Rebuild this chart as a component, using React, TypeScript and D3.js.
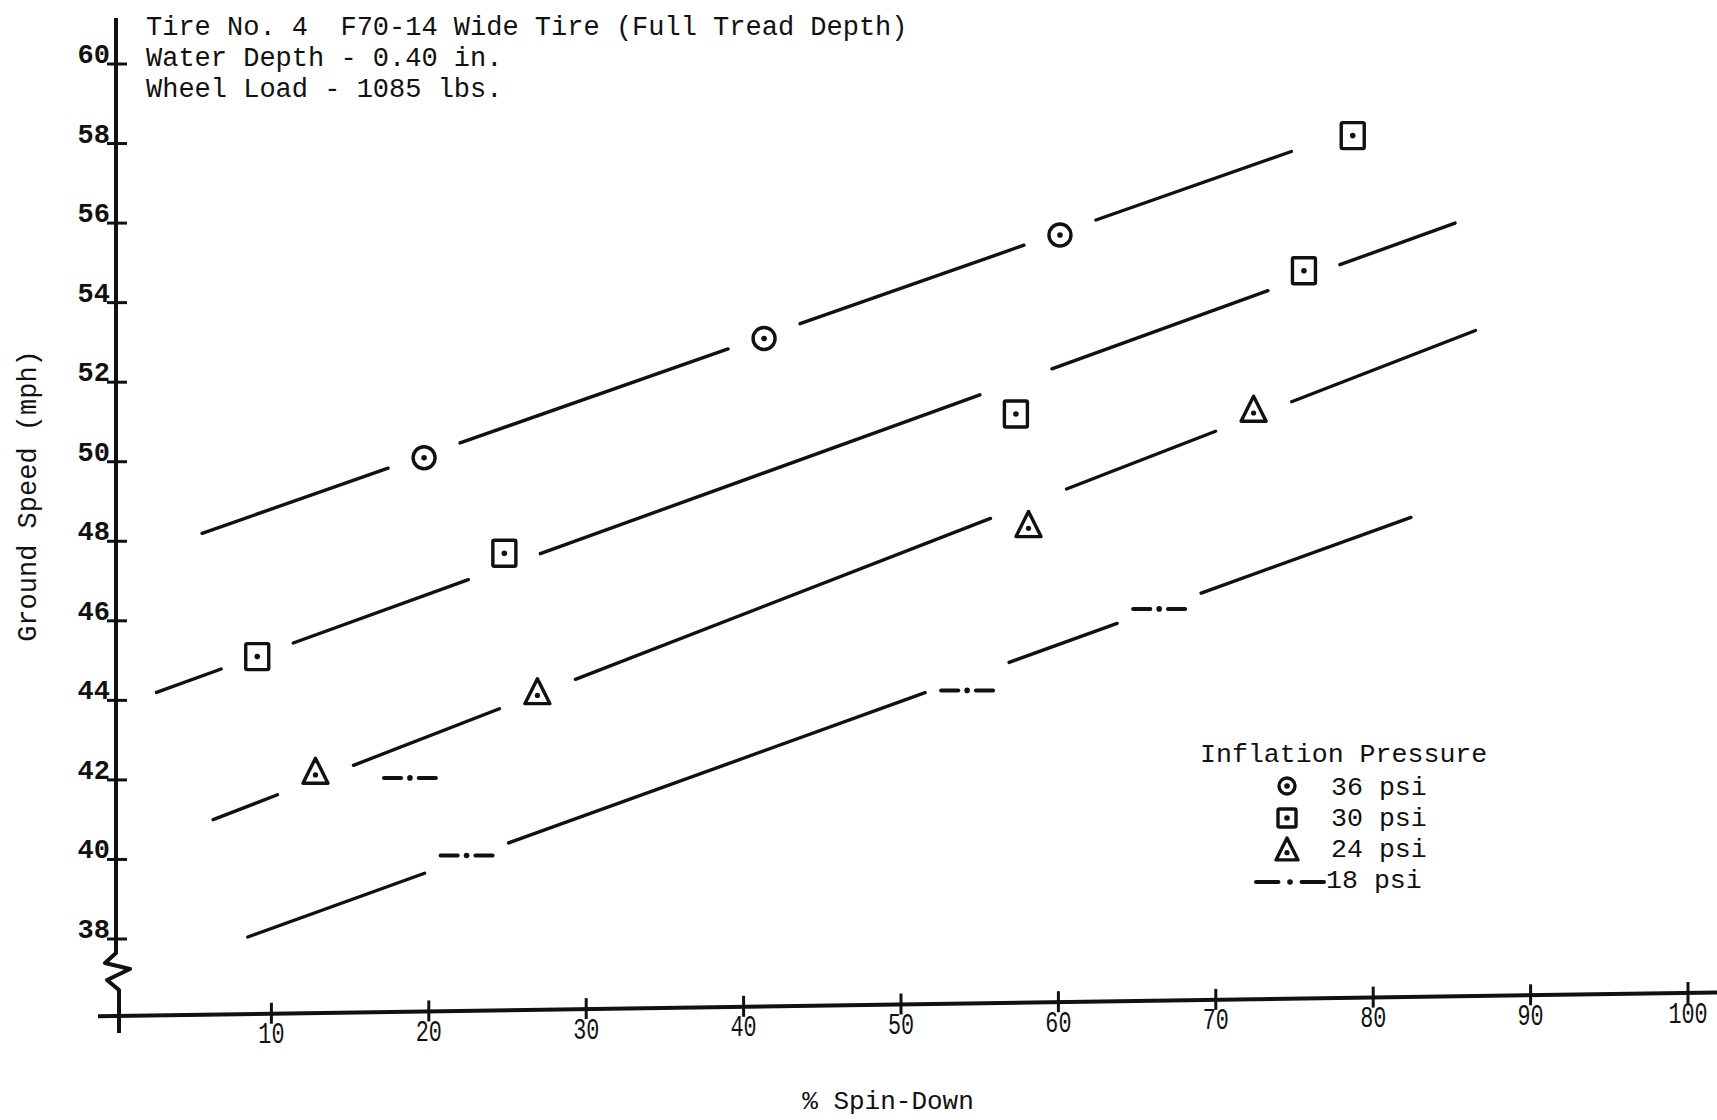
import React from 'react';
import * as d3 from 'd3';

const W = 1717;
const H = 1120;

// values: % spin-down vs ground speed (mph)
const psi36X = [19.7, 41.3, 60.1];
const psi36Y = [50.1, 53.1, 55.7];
const psi30X = [9.1, 24.8, 57.3, 75.6, 78.7];
const psi30Y = [45.1, 47.7, 51.2, 54.8, 58.2];
const psi24X = [12.8, 26.9, 58.1, 72.4];
const psi24Y = [42.2, 44.2, 48.4, 51.3];
const psi18X = [18.8, 22.4, 54.2, 66.4];
const psi18Y = [42.05, 40.1, 44.25, 46.3];

// faired lines: x from..to, y from..to
const fit36X = [5.6, 74.8];
const fit36Y = [48.2, 57.8];
const fit30X = [2.7, 85.2];
const fit30Y = [44.2, 56.0];
const fit24X = [6.3, 86.5];
const fit24Y = [41.0, 53.3];
const fit18X = [8.5, 82.4];
const fit18Y = [38.05, 48.6];

const xTicks = [10, 20, 30, 40, 50, 60, 70, 80, 90, 100];
const yTicks = [38, 40, 42, 44, 46, 48, 50, 52, 54, 56, 58, 60];
const titleLines = [
  'Tire No. 4  F70-14 Wide Tire (Full Tread Depth)',
  'Water Depth - 0.40 in.',
  'Wheel Load - 1085 lbs.',
];
const legendTitle = 'Inflation Pressure';
const legendLabels = ['36 psi', '30 psi', '24 psi', '18 psi'];

const MONO = '"Liberation Mono", "DejaVu Sans Mono", monospace';
const INK = '#111';

const x = d3.scaleLinear().domain([0, 100]).range([114, 1688]);
const y = d3.scaleLinear().domain([38, 60]).range([939, 64]);

// the scanned x axis runs slightly uphill
const AXIS_Y = 1016;
const TILT = 0.01466;
const axisY = (px: number) => AXIS_Y - TILT * (px - 117);

const lineGen = d3.line<number[]>().x(d => x(d[0])).y(d => y(d[1]));

// split the faired line where a marker sits on it
function segments(fx: number[], fy: number[], px: number[], py: number[], gap: number) {
  const slope = (fy[1] - fy[0]) / (fx[1] - fx[0]);
  const at = (v: number) => fy[0] + (v - fx[0]) * slope;
  const cuts = px
    .map((v, i) => ({ v, on: Math.abs(py[i] - at(v)) < 1.2 }))
    .filter(d => d.on)
    .map(d => [x.invert(x(d.v) - gap), x.invert(x(d.v) + gap)])
    .sort((a, b) => a[0] - b[0]);
  const out: number[][][] = [];
  let start = fx[0];
  cuts.forEach(c => {
    if (c[0] > start) out.push([[start, at(start)], [c[0], at(c[0])]]);
    start = Math.max(start, c[1]);
  });
  if (start < fx[1]) out.push([[start, at(start)], [fx[1], at(fx[1])]]);
  return out;
}

const Circle = ({ cx, cy, r }: { cx: number; cy: number; r: number }) => (
  <g transform={`translate(${cx},${cy})`}>
    <circle r={r} fill="none" stroke={INK} strokeWidth={3.4} />
    <circle r={2.8} fill={INK} />
  </g>
);

const Square = ({ cx, cy, w, h }: { cx: number; cy: number; w: number; h: number }) => (
  <g transform={`translate(${cx},${cy})`}>
    <rect x={-w / 2} y={-h / 2} width={w} height={h} rx={1.5} fill="none" stroke={INK} strokeWidth={3.4} />
    <circle r={2.8} fill={INK} />
  </g>
);

const Triangle = ({ cx, cy, s }: { cx: number; cy: number; s: number }) => (
  <g transform={`translate(${cx},${cy})`}>
    <path
      d={`M0,${-s * 0.55}L${s * 0.5},${s * 0.45}L${-s * 0.5},${s * 0.45}Z`}
      fill="none"
      stroke={INK}
      strokeWidth={3.4}
      strokeLinejoin="round"
    />
    <circle cy={s * 0.12} r={2.6} fill={INK} />
  </g>
);

const DashDot = ({ cx, cy, w }: { cx: number; cy: number; w: number }) => (
  <g transform={`translate(${cx},${cy})`}>
    <line x1={-w / 2} x2={-w / 2 + w * 0.33} stroke={INK} strokeWidth={4} strokeLinecap="round" />
    <circle r={2.8} fill={INK} />
    <line x1={w / 2 - w * 0.33} x2={w / 2} stroke={INK} strokeWidth={4} strokeLinecap="round" />
  </g>
);

const XAxis = () => {
  const ref = React.useRef<SVGGElement>(null);
  React.useEffect(() => {
    const g = d3.select(ref.current);
    g.selectAll('*').remove();
    g.call(d3.axisBottom(x).tickValues(xTicks).tickSize(0).tickFormat(d => String(d)));
    g.select('.domain').remove();
    g.selectAll<SVGGElement, number>('.tick').attr('transform', d => `translate(${x(d)},${axisY(x(d))})`);
    g.selectAll('.tick line').attr('y1', -11).attr('y2', 10).attr('stroke', INK).attr('stroke-width', 3);
    // tall narrow typewriter digits
    g.selectAll('.tick text')
      .attr('y', 9)
      .attr('dy', '0.71em')
      .attr('fill', INK)
      .attr('font-family', MONO)
      .attr('font-size', 29)
      .attr('transform', 'scale(0.75,1)');
  }, []);
  return (
    <g>
      <line x1={98} x2={W} y1={axisY(98)} y2={axisY(W)} stroke={INK} strokeWidth={4} />
      <g ref={ref} />
    </g>
  );
};

export default function App() {
  const series = [
    { px: psi36X, py: psi36Y, fx: fit36X, fy: fit36Y, gap: 36, kind: 'circle' },
    { px: psi30X, py: psi30Y, fx: fit30X, fy: fit30Y, gap: 36, kind: 'square' },
    { px: psi24X, py: psi24Y, fx: fit24X, fy: fit24Y, gap: 38, kind: 'triangle' },
    { px: psi18X, py: psi18Y, fx: fit18X, fy: fit18Y, gap: 42, kind: 'dashdot' },
  ];

  const marker = (kind: string, cx: number, cy: number, key: string, small = false) => {
    if (kind === 'circle') return <Circle key={key} cx={cx} cy={cy} r={small ? 8 : 11} />;
    if (kind === 'square') return <Square key={key} cx={cx} cy={cy} w={small ? 18 : 23} h={small ? 18 : 26} />;
    if (kind === 'triangle') return <Triangle key={key} cx={cx} cy={cy} s={small ? 22 : 25} />;
    return <DashDot key={key} cx={cx} cy={cy} w={small ? 68 : 52} />;
  };

  return (
    <svg
      width={W}
      height={H}
      style={{ position: 'absolute', left: 0, top: 0, background: '#fff' }}
      fontFamily={MONO}
    >
      <rect width={W} height={H} fill="#fff" />

      {/* y axis with break */}
      <path
        d="M116,18L116,953L105,963L130,969L107,980L119,990L119,1033"
        fill="none"
        stroke={INK}
        strokeWidth={4}
        strokeLinejoin="round"
      />
      {yTicks.map(t => (
        <g key={t}>
          <line x1={107} x2={127} y1={y(t)} y2={y(t)} stroke={INK} strokeWidth={3} />
          <text x={110} y={y(t) - 1} textAnchor="end" fontSize={27} fontWeight={600} fill={INK}>
            {t}
          </text>
        </g>
      ))}

      <XAxis />

      {/* title block */}
      {titleLines.map((s, i) => (
        <text key={i} x={146} y={35 + i * 31} fontSize={27} fill={INK} style={{ whiteSpace: 'pre' }}>
          {s}
        </text>
      ))}

      {/* axis titles */}
      <text transform="translate(36,496) rotate(-90)" textAnchor="middle" fontSize={27} fill={INK}>
        Ground Speed (mph)
      </text>
      <text x={888} y={1109} textAnchor="middle" fontSize={26} fill={INK}>
        % Spin-Down
      </text>

      {/* faired lines */}
      {series.map((s, i) =>
        segments(s.fx, s.fy, s.px, s.py, s.gap).map((seg, j) => (
          <path key={`${i}-${j}`} d={lineGen(seg) || ''} fill="none" stroke={INK} strokeWidth={3.4} strokeLinecap="round" />
        ))
      )}

      {/* markers */}
      {series.map((s, i) => s.px.map((v, j) => marker(s.kind, x(v), y(s.py[j]), `m${i}-${j}`)))}

      {/* legend */}
      <text x={1200} y={762} fontSize={26.6} fill={INK}>
        {legendTitle}
      </text>
      {legendLabels.map((l, i) => (
        <g key={l}>
          {marker(series[i].kind, i === 3 ? 1290 : 1287, 786 + i * 32, `lg${i}`, true)}
          <text x={i === 3 ? 1326 : 1331} y={795 + i * 31} fontSize={26.6} fill={INK}>
            {l}
          </text>
        </g>
      ))}
    </svg>
  );
}
